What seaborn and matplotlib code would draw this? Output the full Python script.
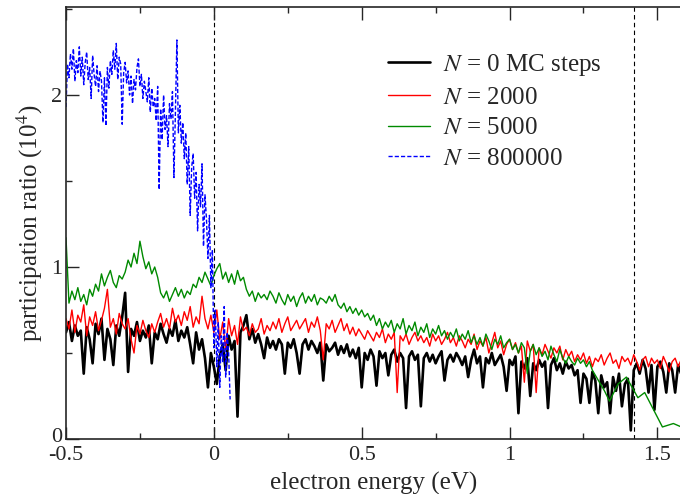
import numpy as np
import pandas as pd
import matplotlib
matplotlib.use("Agg")
import matplotlib.pyplot as plt
from matplotlib.ticker import MultipleLocator
import matplotlib.transforms as mtransforms
import seaborn as sns

# ---------------- data ----------------
energy_start, energy_end, n_energy = -0.50, 1.58, 209  # 0.01 eV grid

pr_n0 = [
    0.62, 0.68, 0.57, 0.66, 0.60, 0.63, 0.38, 0.65, 0.58, 0.44,
    0.67, 0.61, 0.70, 0.46, 0.64, 0.58, 0.43, 0.66, 0.60, 0.71,
    0.85, 0.39, 0.64, 0.60, 0.68, 0.57, 0.63, 0.59, 0.66, 0.44,
    0.62, 0.58, 0.67, 0.61, 0.56, 0.64, 0.60, 0.69, 0.57, 0.63,
    0.59, 0.65, 0.55, 0.44, 0.62, 0.52, 0.58, 0.47, 0.30, 0.50,
    0.42, 0.32, 0.48, 0.55, 0.40, 0.60, 0.52, 0.57, 0.13, 0.62,
    0.66, 0.72, 0.58, 0.64, 0.56, 0.61, 0.55, 0.47, 0.59, 0.53,
    0.57, 0.52, 0.58, 0.55, 0.38, 0.56, 0.53, 0.58, 0.50, 0.38,
    0.55, 0.58, 0.52, 0.57, 0.54, 0.50, 0.56, 0.34, 0.55, 0.51,
    0.53, 0.56, 0.49, 0.54, 0.50, 0.55, 0.48, 0.52, 0.47, 0.53,
    0.30, 0.50, 0.46, 0.52, 0.48, 0.31, 0.51, 0.47, 0.50, 0.37,
    0.49, 0.52, 0.45, 0.50, 0.47, 0.18, 0.48, 0.51, 0.46, 0.49,
    0.19, 0.47, 0.50, 0.45, 0.49, 0.44, 0.48, 0.51, 0.34, 0.46,
    0.49, 0.45, 0.50, 0.47, 0.43, 0.48, 0.36, 0.46, 0.52, 0.44,
    0.48, 0.30, 0.47, 0.44, 0.50, 0.43, 0.46, 0.49, 0.42, 0.28,
    0.46, 0.43, 0.48, 0.15, 0.45, 0.41, 0.47, 0.25, 0.44, 0.40,
    0.46, 0.42, 0.45, 0.18, 0.43, 0.47, 0.40, 0.44, 0.38, 0.45,
    0.41, 0.43, 0.37, 0.40, 0.21, 0.38, 0.35, 0.21, 0.39, 0.34,
    0.15, 0.37, 0.30, 0.33, 0.15, 0.36, 0.28, 0.38, 0.19, 0.32,
    0.35, 0.05, 0.40, 0.44, 0.38, 0.46, 0.41, 0.27, 0.43, 0.17,
    0.42, 0.45, 0.39, 0.27, 0.44, 0.40, 0.27, 0.43, 0.38,
]

pr_n2000 = [
    0.70, 0.64, 0.75, 0.62, 0.72, 0.68, 0.78, 0.60, 0.71, 0.66,
    0.74, 0.63, 0.69, 0.76, 0.87, 0.65, 0.70, 0.61, 0.73, 0.67,
    0.64, 0.70, 0.58, 0.50, 0.66, 0.61, 0.69, 0.63, 0.59, 0.67,
    0.62, 0.68, 0.73, 0.65, 0.70, 0.64, 0.76, 0.68, 0.72, 0.66,
    0.74, 0.69, 0.77, 0.65, 0.71, 0.67, 0.83, 0.70, 0.64, 0.72,
    0.62, 0.75, 0.58, 0.68, 0.52, 0.70, 0.60, 0.66, 0.55, 0.71,
    0.63, 0.65, 0.60, 0.67, 0.62, 0.64, 0.70, 0.61, 0.66, 0.63,
    0.68, 0.64, 0.70, 0.62, 0.67, 0.71, 0.63, 0.66, 0.69, 0.64,
    0.67, 0.70, 0.62, 0.68, 0.65, 0.71, 0.63, 0.46, 0.67, 0.64,
    0.69, 0.62, 0.66, 0.70, 0.63, 0.67, 0.61, 0.65, 0.60, 0.64,
    0.61, 0.58, 0.63, 0.60, 0.57, 0.62, 0.59, 0.64, 0.56, 0.61,
    0.58, 0.62, 0.27, 0.60, 0.57, 0.61, 0.55, 0.59, 0.62, 0.57,
    0.60, 0.56, 0.59, 0.54, 0.61, 0.57, 0.60, 0.55, 0.58, 0.62,
    0.56, 0.59, 0.54, 0.60, 0.57, 0.53, 0.58, 0.55, 0.61, 0.52,
    0.57, 0.54, 0.59, 0.50, 0.56, 0.62, 0.53, 0.57, 0.49, 0.55,
    0.58, 0.52, 0.56, 0.50, 0.54, 0.33, 0.57, 0.51, 0.55, 0.27,
    0.53, 0.49, 0.55, 0.51, 0.47, 0.53, 0.50, 0.54, 0.46, 0.52,
    0.48, 0.51, 0.45, 0.49, 0.46, 0.50, 0.44, 0.48, 0.42, 0.47,
    0.45, 0.49, 0.43, 0.47, 0.50, 0.44, 0.46, 0.41, 0.48, 0.45,
    0.47, 0.43, 0.49, 0.45, 0.40, 0.46, 0.48, 0.42, 0.47, 0.44,
    0.46, 0.41, 0.48, 0.44, 0.39, 0.45, 0.47, 0.42, 0.46,
]

green_dense_end, n_green_dense = 1.28, 179
pr_n5000_dense = [
    1.17, 0.79, 0.86, 0.81, 0.88, 0.80, 0.84, 0.78, 0.87, 0.83,
    0.90, 0.86, 0.96, 0.89, 0.94, 0.98, 0.91, 0.88, 0.95, 0.93,
    0.97, 1.04, 1.00, 1.08, 1.02, 1.15, 1.06, 0.99, 1.03, 0.96,
    1.00, 0.94, 0.85, 0.82, 0.86, 0.80, 0.84, 0.88, 0.83, 0.87,
    0.82, 0.86, 0.84, 0.90, 0.88, 0.94, 0.91, 0.97, 0.93, 0.89,
    0.95, 0.99, 1.02, 0.93, 0.97, 0.91, 0.96, 0.90, 0.98, 0.92,
    0.94, 0.87, 0.83, 0.86, 0.80, 0.85, 0.82, 0.84, 0.81, 0.86,
    0.83, 0.79, 0.85, 0.81, 0.78, 0.84, 0.80, 0.83, 0.77, 0.82,
    0.85, 0.79, 0.83, 0.80, 0.84, 0.78, 0.82, 0.81, 0.79, 0.83,
    0.80, 0.84, 0.78, 0.76, 0.79, 0.74, 0.77, 0.73, 0.76, 0.72,
    0.75, 0.71, 0.73, 0.69, 0.72, 0.66, 0.70, 0.64, 0.68, 0.65,
    0.69, 0.62, 0.67, 0.64, 0.70, 0.61, 0.66, 0.63, 0.68, 0.60,
    0.65, 0.62, 0.67, 0.59, 0.64, 0.61, 0.66, 0.60, 0.63, 0.58,
    0.62, 0.59, 0.64, 0.57, 0.61, 0.58, 0.63, 0.56, 0.60, 0.55,
    0.59, 0.54, 0.61, 0.57, 0.52, 0.58, 0.55, 0.60, 0.53, 0.56,
    0.58, 0.52, 0.55, 0.50, 0.56, 0.53, 0.38, 0.51, 0.55, 0.49,
    0.53, 0.48, 0.51, 0.46, 0.54, 0.49, 0.45, 0.52, 0.47, 0.44,
    0.48, 0.45, 0.43, 0.47, 0.44, 0.46, 0.42, 0.45, 0.40,
]
green_tail_energy = [1.321, 1.338, 1.367, 1.395, 1.434, 1.457, 1.481, 1.517, 1.554, 1.581]
pr_n5000_tail = [0.28, 0.22, 0.32, 0.36, 0.24, 0.27, 0.19, 0.07, 0.09, 0.07]

blue_start, blue_end, n_blue = -0.500, 0.055, 112  # 0.005 eV grid
pr_n800000 = [
    1.93, 2.18, 2.10, 2.24, 2.15, 2.27, 2.08, 2.20, 2.13, 2.28,
    2.11, 2.22, 2.06, 2.19, 2.25, 2.09, 2.16, 1.98, 2.23, 2.12,
    2.05, 2.17, 2.02, 2.14, 2.08, 1.84, 2.10, 1.82, 2.16, 2.04,
    2.20, 2.12, 2.26, 2.15, 2.30, 2.09, 2.22, 2.18, 1.83, 2.13,
    2.19, 2.07, 2.14, 2.00, 2.11, 1.95, 2.09, 2.03, 2.16, 2.21,
    2.05, 2.12, 1.98, 2.08, 2.02, 1.96, 2.10, 1.90, 2.04, 1.93,
    1.98, 1.85, 2.05, 1.45, 1.92, 1.74, 2.00, 1.80, 1.88, 1.70,
    1.95, 1.86, 2.02, 1.52, 1.90, 2.32, 1.78, 1.94, 1.72, 1.84,
    1.63, 1.78, 1.48, 1.70, 1.30, 1.58, 1.66, 1.40, 1.55, 1.21,
    1.48, 1.35, 1.60, 1.12, 1.42, 1.28, 1.05, 1.30, 0.88, 1.10,
    0.53, 0.75, 0.42, 0.68, 0.30, 0.60, 0.45, 0.77, 0.36, 0.62,
    0.50, 0.23,
]

band_edges = [0.0, 1.42]
legend_labels = [r"$N$ = 0 MC steps", r"$N$ = 2000", r"$N$ = 5000", r"$N$ = 800000"]

# ---------------- build tables ----------------
energy = np.linspace(energy_start, energy_end, n_energy)
green_energy = np.concatenate([np.linspace(energy_start, green_dense_end, n_green_dense),
                               np.array(green_tail_energy)])
blue_energy = np.linspace(blue_start, blue_end, n_blue)

df0 = pd.DataFrame({"E": energy, "PR": pr_n0})
df2 = pd.DataFrame({"E": energy, "PR": pr_n2000})
df5 = pd.DataFrame({"E": green_energy, "PR": list(pr_n5000_dense) + list(pr_n5000_tail)})
df8 = pd.DataFrame({"E": blue_energy, "PR": pr_n800000})

# ---------------- style ----------------
sns.set_style("ticks")
plt.rcParams["font.family"] = ["Liberation Serif", "DejaVu Serif"]
plt.rcParams["mathtext.fontset"] = "stix"

fig = plt.figure(figsize=(6.8, 4.94), dpi=100)
ax = fig.add_axes([66 / 680, 55 / 494, (680 - 66) / 680 + 0.002, (439 - 7) / 494])

sns.lineplot(data=df0, x="E", y="PR", ax=ax, color="black", lw=1.9,
             label=legend_labels[0], sort=False, estimator=None)
sns.lineplot(data=df2, x="E", y="PR", ax=ax, color="#ff0000", lw=1.0,
             label=legend_labels[1], sort=False, estimator=None)
sns.lineplot(data=df5, x="E", y="PR", ax=ax, color="#008a00", lw=1.0,
             label=legend_labels[2], sort=False, estimator=None)
sns.lineplot(data=df8, x="E", y="PR", ax=ax, color="#0000ff", lw=1.0,
             label=legend_labels[3], sort=False, estimator=None, dashes=False)
ax.lines[-1].set_linestyle((0, (3, 1.5)))

for xe in band_edges:
    ax.axvline(xe, color="black", lw=0.8, ls=(0, (4, 3)), zorder=0)

ax.set_xlim(-0.5, 1.581)
ax.set_ylim(0, (439 - 7) / 172)
ax.xaxis.set_minor_locator(MultipleLocator(0.25))
ax.yaxis.set_minor_locator(MultipleLocator(0.5))
ax.set_xticks([-0.5, 0, 0.5, 1, 1.5])
ax.set_xticklabels(["-0.5", "0", "0.5", "1", "1.5"])
ax.set_yticks([0, 1, 2])
ax.set_yticklabels(["0", "1", "2"])
ax.tick_params(which="both", direction="in", top=True, right=False,
               labelsize=16, width=1.0)
ax.tick_params(axis="x", which="both", pad=5)
ax.tick_params(axis="y", which="both", pad=3)
ax.tick_params(which="major", length=9)
ax.tick_params(which="minor", length=4.5)
for side in ["left", "bottom", "top"]:
    ax.spines[side].set_linewidth(1.2)
ax.spines["right"].set_visible(False)

# nudge the y "0" label up slightly, as in the reference
zero_lbl = ax.get_yticklabels()[0]
zero_lbl.set_transform(zero_lbl.get_transform() +
                       mtransforms.ScaledTranslation(0, 3 / 72, fig.dpi_scale_trans))

ax.set_xlabel("electron energy (eV)", fontsize=18, labelpad=5)
ax.set_ylabel(r"participation ratio (10$^4$)", fontsize=18, labelpad=4)

leg = ax.legend(loc="upper left", bbox_to_anchor=((377 - 66) / 614, (439 - 42) / 432),
                frameon=False, fontsize=18, handlelength=1.7, handletextpad=0.5,
                labelspacing=0.33, borderaxespad=0)

fig.savefig("out.png", dpi=100)
